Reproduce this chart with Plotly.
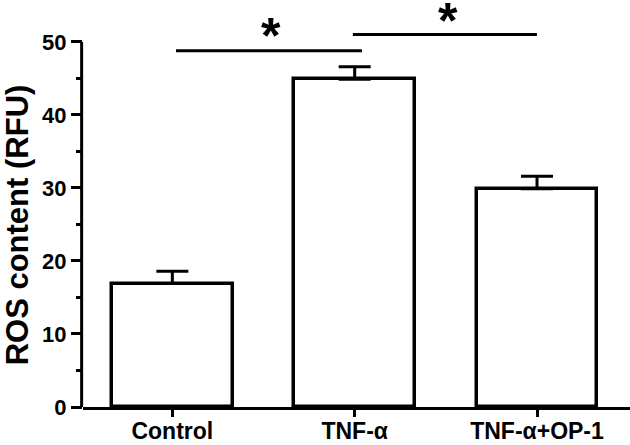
import plotly.graph_objects as go

categories = ["Control", "TNF-α", "TNF-α+OP-1"]
ros_mean = [16.9, 44.9, 29.9]
ros_sem = [1.7, 1.7, 1.7]
y_tick_vals = [0, 10, 20, 30, 40, 50]
y_minor_vals = [5, 15, 25, 35, 45]
y_title = "ROS content (RFU)"
# significance brackets
sig_x0 = [0.02, 0.99]
sig_x1 = [1.04, 2.0]
sig_y = [48.8, 51.0]
sig_star_x = [0.54, 1.51]
sig_star_y = [50.8, 52.9]
sig_text = ["*", "*"]

FONT = "Liberation Sans, Arial, sans-serif"
Y_MAX = 55.6

fig = go.Figure()
fig.add_trace(go.Bar(
    x=[0, 1, 2],
    y=ros_mean,
    width=0.663,
    marker=dict(color="white", line=dict(color="black", width=3.5)),
    error_y=dict(type="data", array=ros_sem, arrayminus=[0, 0, 0], symmetric=False,
                 color="black", thickness=3, width=16),
    showlegend=False,
    hoverinfo="skip",
))

shapes = [
    # y axis line only up to 50
    dict(type="line", xref="paper", yref="paper", x0=-0.0025, x1=-0.0025, y0=0,
         y1=y_tick_vals[-1] / Y_MAX, line=dict(color="black", width=3)),
]
for a, b, yy in zip(sig_x0, sig_x1, sig_y):
    shapes.append(dict(type="line", xref="x", yref="y", x0=a, x1=b, y0=yy, y1=yy,
                       line=dict(color="black", width=3)))

annotations = []
for sx, sy, t in zip(sig_star_x, sig_star_y, sig_text):
    annotations.append(dict(x=sx, y=sy, xref="x", yref="y", text="<b>%s</b>" % t,
                            showarrow=False, font=dict(family=FONT, size=50, color="black"),
                            yanchor="middle"))
# y axis title, centred on the drawn axis (0..50)
annotations.append(dict(x=-0.119, y=(y_tick_vals[-1] / 2) / Y_MAX, xref="paper", yref="paper",
                        text="<b>%s</b>" % y_title, textangle=-90, showarrow=False,
                        xanchor="center", yanchor="middle", borderpad=0,
                        font=dict(family=FONT, size=31, color="black")))

fig.update_layout(
    width=630, height=445,
    margin=dict(l=83, r=0, t=1, b=38),
    paper_bgcolor="white", plot_bgcolor="white",
    font=dict(family=FONT, color="black"),
    bargap=0,
    shapes=shapes,
    annotations=annotations,
    xaxis=dict(
        range=[-0.49, 2.51], automargin=False,
        tickmode="array", tickvals=[0, 1, 2], ticktext=["<b>%s</b>" % c for c in categories],
        tickfont=dict(family=FONT, size=23, color="black"),
        showline=True, linecolor="black", linewidth=3,
        ticks="outside", ticklen=7, tickwidth=3, tickcolor="black",
        ticklabelstandoff=-6,
        showgrid=False, zeroline=False,
    ),
    yaxis=dict(
        range=[0, Y_MAX], automargin=False,
        tickmode="array", tickvals=y_tick_vals,
        ticktext=["<b>%d</b>" % v for v in y_tick_vals],
        tickfont=dict(family=FONT, size=22, color="black"),
        showline=False,
        ticks="outside", ticklen=11, tickwidth=3, tickcolor="black",
        minor=dict(tickmode="array", tickvals=y_minor_vals, ticks="outside", ticklen=6,
                   tickwidth=3, tickcolor="black", showgrid=False),
        showgrid=False, zeroline=False,
    ),
)

fig.write_html("out.html", config={"displayModeBar": False},
               post_script="document.body.style.margin='0px';")
